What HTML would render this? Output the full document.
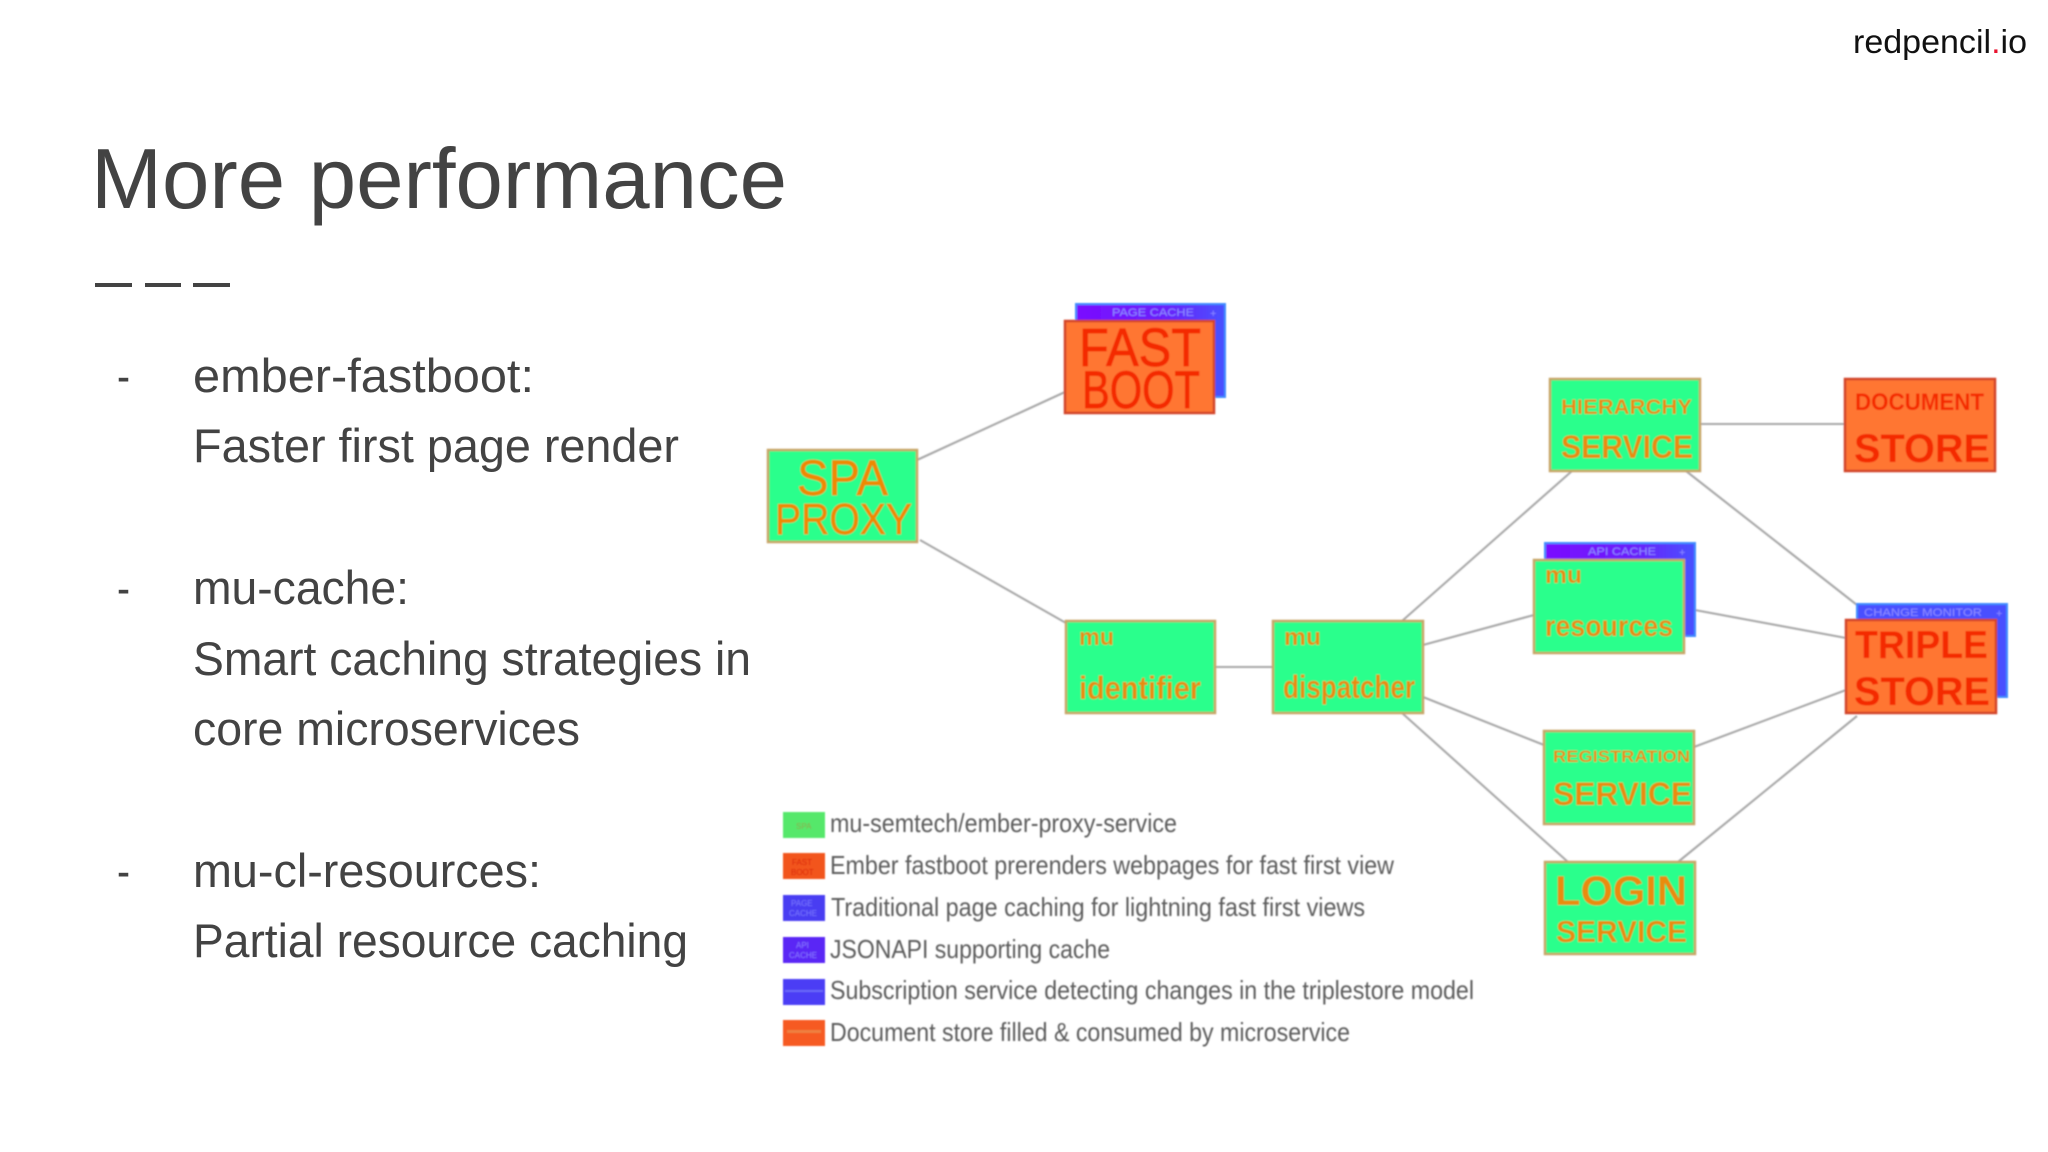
<!DOCTYPE html>
<html>
<head>
<meta charset="utf-8">
<title>More performance</title>
<style>
html,body{margin:0;padding:0;background:#fff;width:2048px;height:1152px;overflow:hidden}
svg{display:block}
text{font-family:"Liberation Sans",sans-serif}
.body{font-size:47px;fill:#434343}
.l{font-size:26px;fill:#5c5c5c}
.o{fill:#e98c08;font-weight:bold}
.n{fill:#ee8a04;stroke:#ee8a04;stroke-width:.7}
.r{fill:#f42c00;font-weight:bold}
.m{fill:#f42c00;stroke:#f42c00;stroke-width:.8}
.c{fill:#8f8dff;font-size:11px}
.g{fill:#2cff8c;stroke:#c8a668;stroke-width:2.5}
.f{fill:#ff7630;stroke:#d2442a;stroke-width:2.5}
.line{stroke:#a8a8a8;stroke-width:2.1;fill:none}
</style>
</head>
<body>
<svg xmlns="http://www.w3.org/2000/svg" width="2048" height="1152" viewBox="0 0 2048 1152">
<defs>
<filter id="b" x="-5%" y="-5%" width="110%" height="110%"><feGaussianBlur stdDeviation="0.7"/></filter>
<linearGradient id="band" x1="0" x2="1" y1="0" y2="0"><stop offset="0" stop-color="#7a0cff"/><stop offset="0.6" stop-color="#6a20fa"/><stop offset="1" stop-color="#4a50ff"/></linearGradient>
</defs>
<rect width="2048" height="1152" fill="#fff"/>

<text x="1853" y="53" font-size="33" fill="#111" textLength="174" lengthAdjust="spacingAndGlyphs">redpencil<tspan fill="#e8112d">.</tspan>io</text>

<text x="91" y="208" font-size="85" fill="#434343" textLength="696" lengthAdjust="spacingAndGlyphs">More performance</text>
<rect x="95" y="283" width="37" height="4" fill="#434343"/>
<rect x="145" y="283" width="36" height="4" fill="#434343"/>
<rect x="193" y="283" width="37" height="4" fill="#434343"/>

<text class="body" x="117" y="392" textLength="13" lengthAdjust="spacingAndGlyphs">-</text>
<text class="body" x="193" y="392" textLength="341" lengthAdjust="spacingAndGlyphs">ember-fastboot:</text>
<text class="body" x="193" y="462" textLength="486" lengthAdjust="spacingAndGlyphs">Faster first page render</text>
<text class="body" x="117" y="604" textLength="13" lengthAdjust="spacingAndGlyphs">-</text>
<text class="body" x="193" y="604" textLength="216" lengthAdjust="spacingAndGlyphs">mu-cache:</text>
<text class="body" x="193" y="675" textLength="558" lengthAdjust="spacingAndGlyphs">Smart caching strategies in</text>
<text class="body" x="193" y="745" textLength="387" lengthAdjust="spacingAndGlyphs">core microservices</text>
<text class="body" x="117" y="887" textLength="13" lengthAdjust="spacingAndGlyphs">-</text>
<text class="body" x="193" y="887" textLength="348" lengthAdjust="spacingAndGlyphs">mu-cl-resources:</text>
<text class="body" x="193" y="957" textLength="495" lengthAdjust="spacingAndGlyphs">Partial resource caching</text>

<g filter="url(#b)">
<!-- connectors -->
<path class="line" d="M917 460L1065 392"/>
<path class="line" d="M920 540L1066 623"/>
<path class="line" d="M1215 667H1273"/>
<path class="line" d="M1402 621L1572 471"/>
<path class="line" d="M1423 645L1534 615"/>
<path class="line" d="M1423 697L1544 745"/>
<path class="line" d="M1402 713L1568 862"/>
<path class="line" d="M1700 424H1845"/>
<path class="line" d="M1686 471L1857 605"/>
<path class="line" d="M1684 608L1846 638"/>
<path class="line" d="M1694 747L1846 690"/>
<path class="line" d="M1678 862L1857 716"/>

<!-- back cards -->
<rect x="1076" y="304" width="149" height="93" fill="#4a50ff" stroke="#3f8cff" stroke-width="2"/>
<rect x="1077" y="305" width="147" height="15" fill="url(#band)"/>
<text class="c" x="1112" y="316" textLength="82" lengthAdjust="spacingAndGlyphs">PAGE CACHE</text>
<text class="c" x="1210" y="317" font-size="14">+</text>

<rect x="1545" y="543" width="150" height="93" fill="#4a50ff" stroke="#3f8cff" stroke-width="2"/>
<rect x="1546" y="544" width="148" height="15" fill="url(#band)"/>
<text class="c" x="1588" y="555" textLength="68" lengthAdjust="spacingAndGlyphs">API CACHE</text>
<text class="c" x="1679" y="556">+</text>

<rect x="1857" y="604" width="150" height="93" fill="#4a50ff" stroke="#3f8cff" stroke-width="2"/>
<text class="c" x="1864" y="616" textLength="118" lengthAdjust="spacingAndGlyphs">CHANGE MONITOR</text>
<text class="c" x="1996" y="617">+</text>

<!-- nodes -->
<rect class="f" x="1065" y="321" width="149" height="92"/>
<text class="m" x="1079" y="366" font-size="54" textLength="122" lengthAdjust="spacingAndGlyphs">FAST</text>
<text class="m" x="1082" y="408" font-size="53" textLength="118" lengthAdjust="spacingAndGlyphs">BOOT</text>

<rect class="g" x="768" y="450" width="149" height="92"/>
<text class="n" x="797" y="495" font-size="50" textLength="91" lengthAdjust="spacingAndGlyphs">SPA</text>
<text class="n" x="775" y="534" font-size="44" textLength="137" lengthAdjust="spacingAndGlyphs">PROXY</text>

<rect class="g" x="1066" y="621" width="149" height="92"/>
<text class="o" x="1079" y="645" font-size="24" textLength="35" lengthAdjust="spacingAndGlyphs">mu</text>
<text class="o" x="1079" y="699" font-size="32" textLength="122" lengthAdjust="spacingAndGlyphs">identifier</text>

<rect class="g" x="1273" y="621" width="150" height="92"/>
<text class="o" x="1284" y="645" font-size="24" textLength="37" lengthAdjust="spacingAndGlyphs">mu</text>
<text class="o" x="1283" y="698" font-size="32" textLength="132" lengthAdjust="spacingAndGlyphs">dispatcher</text>

<rect class="g" x="1550" y="379" width="150" height="92"/>
<text class="o" x="1561" y="414" font-size="21" textLength="131" lengthAdjust="spacingAndGlyphs">HIERARCHY</text>
<text class="o" x="1561" y="458" font-size="32" textLength="132" lengthAdjust="spacingAndGlyphs">SERVICE</text>

<rect class="f" x="1845" y="379" width="150" height="92"/>
<text class="r" x="1855" y="410" font-size="24" textLength="129" lengthAdjust="spacingAndGlyphs">DOCUMENT</text>
<text class="r" x="1854" y="462" font-size="40" textLength="136" lengthAdjust="spacingAndGlyphs">STORE</text>

<rect class="g" x="1534" y="560" width="150" height="93"/>
<text class="o" x="1545" y="583" font-size="24" textLength="37" lengthAdjust="spacingAndGlyphs">mu</text>
<text class="o" x="1545" y="636" font-size="30" textLength="128" lengthAdjust="spacingAndGlyphs">resources</text>

<rect class="f" x="1846" y="620" width="150" height="93"/>
<text class="r" x="1855" y="658" font-size="39" textLength="133" lengthAdjust="spacingAndGlyphs">TRIPLE</text>
<text class="r" x="1854" y="705" font-size="40" textLength="136" lengthAdjust="spacingAndGlyphs">STORE</text>

<rect class="g" x="1544" y="731" width="150" height="93"/>
<text class="o" x="1553" y="762" font-size="17" textLength="137" lengthAdjust="spacingAndGlyphs">REGISTRATION</text>
<text class="o" x="1553" y="805" font-size="32" textLength="139" lengthAdjust="spacingAndGlyphs">SERVICE</text>

<rect class="g" x="1545" y="862" width="150" height="92"/>
<text class="o" x="1555" y="905" font-size="42" textLength="132" lengthAdjust="spacingAndGlyphs">LOGIN</text>
<text class="o" x="1556" y="942" font-size="31" textLength="131" lengthAdjust="spacingAndGlyphs">SERVICE</text>

<!-- legend -->
<rect x="783" y="812" width="42" height="26" fill="#55e86a"/>
<text x="796" y="829" font-size="8" fill="#8aa84a">SPA</text>
<rect x="783" y="853" width="42" height="26" fill="#f2551c"/>
<text x="792" y="865" font-size="8" fill="#d92200">FAST</text><text x="791" y="875" font-size="8" fill="#d92200">BOOT</text>
<rect x="783" y="895" width="42" height="26" fill="#4a3cf2"/>
<text x="791" y="906" font-size="8" fill="#7a78ff">PAGE</text><text x="789" y="916" font-size="8" fill="#7a78ff">CACHE</text>
<rect x="783" y="937" width="42" height="26" fill="#5a25f5"/>
<text x="796" y="948" font-size="8" fill="#8a78ff">API</text><text x="789" y="958" font-size="8" fill="#8a78ff">CACHE</text>
<rect x="783" y="979" width="42" height="26" fill="#4c3cf5"/>
<rect x="785" y="990" width="38" height="2" fill="#6a68f8"/>
<rect x="783" y="1020" width="42" height="26" fill="#f65a20"/>
<rect x="787" y="1030" width="34" height="3" fill="#ee8040"/>

<text class="l" x="830" y="832" textLength="347" lengthAdjust="spacingAndGlyphs">mu-semtech/ember-proxy-service</text>
<text class="l" x="830" y="874" textLength="564" lengthAdjust="spacingAndGlyphs">Ember fastboot prerenders webpages for fast first view</text>
<text class="l" x="831" y="916" textLength="534" lengthAdjust="spacingAndGlyphs">Traditional page caching for lightning fast first views</text>
<text class="l" x="830" y="958" textLength="280" lengthAdjust="spacingAndGlyphs">JSONAPI supporting cache</text>
<text class="l" x="830" y="999" textLength="644" lengthAdjust="spacingAndGlyphs">Subscription service detecting changes in the triplestore model</text>
<text class="l" x="830" y="1041" textLength="520" lengthAdjust="spacingAndGlyphs">Document store filled &amp; consumed by microservice</text>
</g>
</svg>
</body>
</html>
